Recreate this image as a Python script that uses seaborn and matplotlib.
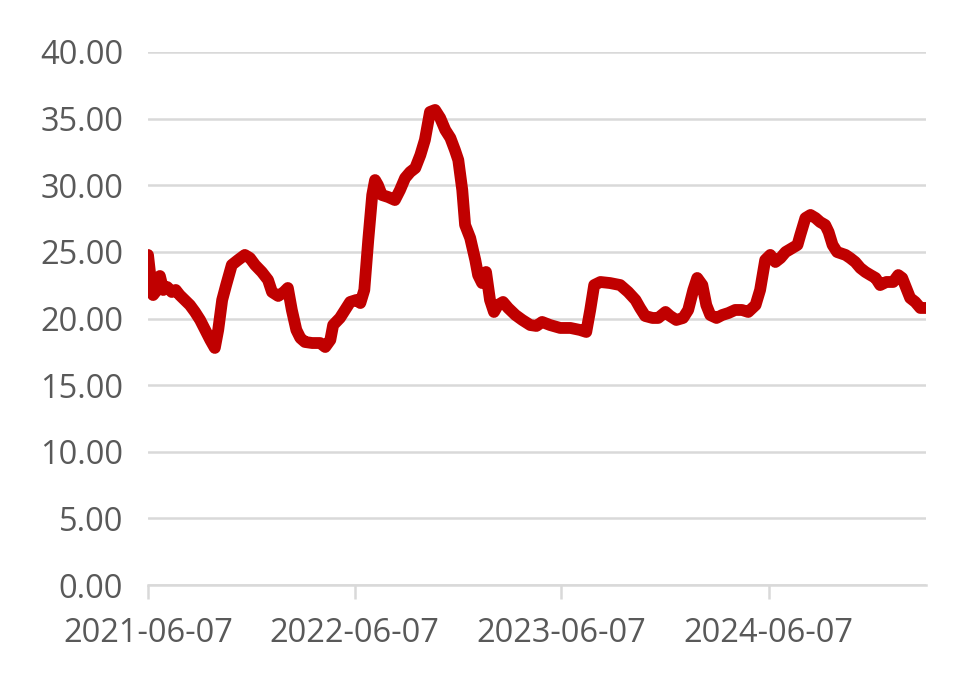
import numpy as np
import pandas as pd
import matplotlib
matplotlib.use("Agg")
import matplotlib.pyplot as plt
import matplotlib.dates as mdates
import seaborn as sns

start_date = "2021-06-07"
end_date = "2025-03-12"
day_offsets = [0, 4, 9, 16, 21, 27, 34, 42, 49, 56, 65, 74, 83, 92, 101, 110, 118, 124, 131, 138,
               148, 159, 171, 180, 189, 201, 212, 219, 230, 240, 247, 254, 262, 269, 277, 290, 304, 313, 322, 327,
               339, 348, 357, 368, 375, 382, 389, 396, 401, 406, 413, 424, 436, 445, 454, 463, 472, 481, 489, 498,
               507, 516, 525, 534, 542, 548, 555, 560, 569, 578, 583, 590, 597, 604, 611, 618, 627, 636, 649, 661,
               675, 686, 696, 710, 728, 746, 763, 774, 781, 788, 799, 816, 834, 848, 861, 869, 878, 891, 901, 914,
               922, 933, 945, 954, 963, 970, 979, 986, 993, 1004, 1014, 1025, 1037, 1049, 1060, 1073, 1081, 1090, 1099, 1108,
               1117, 1126, 1138, 1147, 1152, 1161, 1170, 1179, 1187, 1196, 1202, 1209, 1217, 1232, 1240, 1249, 1258, 1267, 1276, 1285,
               1293, 1304, 1316, 1325, 1332, 1339, 1346, 1355, 1364, 1375]
values = [24.77, 23.26, 21.76, 22.14, 23.19, 22.14, 22.36, 21.99, 22.14, 21.76, 21.39, 21.01, 20.49, 19.89, 19.14, 18.39, 17.79, 19.14, 21.39, 22.51,
          24.02, 24.39, 24.77, 24.54, 24.02, 23.49, 22.89, 21.99, 21.69, 21.99, 22.29, 20.64, 19.14, 18.54, 18.24, 18.16, 18.16, 17.86, 18.39, 19.51,
          20.04, 20.64, 21.24, 21.39, 21.16, 22.14, 25.89, 29.27, 30.39, 30.02, 29.27, 29.12, 28.89, 29.64, 30.54, 30.99, 31.29, 32.27, 33.40, 35.50,
          35.65, 35.05, 34.15, 33.55, 32.65, 31.89, 29.64, 27.02, 26.04, 24.39, 23.26, 22.66, 23.49, 21.39, 20.49, 21.01, 21.24, 20.79, 20.26, 19.89,
          19.51, 19.44, 19.74, 19.51, 19.29, 19.29, 19.14, 18.99, 20.64, 22.51, 22.74, 22.66, 22.51, 21.99, 21.39, 20.79, 20.19, 20.04, 20.04, 20.49,
          20.19, 19.89, 20.04, 20.64, 22.14, 23.04, 22.51, 21.01, 20.26, 20.04, 20.26, 20.41, 20.64, 20.64, 20.49, 21.01, 22.14, 24.39, 24.77, 24.24,
          24.54, 24.99, 25.29, 25.52, 26.27, 27.54, 27.77, 27.54, 27.24, 27.02, 26.49, 25.52, 24.99, 24.77, 24.54, 24.24, 23.79, 23.49, 23.26, 23.04,
          22.51, 22.74, 22.74, 23.26, 23.04, 22.29, 21.54, 21.24, 20.79, 20.79]
x_tick_labels = ["2021-06-07", "2022-06-07", "2023-06-07", "2024-06-07"]
y_ticks = [0, 5, 10, 15, 20, 25, 30, 35, 40]

df = pd.DataFrame({
    "date": pd.to_datetime(start_date) + pd.to_timedelta(day_offsets, unit="D"),
    "value": values,
})

sns.set_theme(style="white")
plt.rcParams["font.family"] = ["Open Sans", "DejaVu Sans"]

fig = plt.figure(figsize=(9.77, 6.91), dpi=100)
ax = fig.add_axes([148 / 977, 1 - 585 / 691, (926 - 148) / 977, (585 - 52) / 691])

sns.lineplot(data=df, x="date", y="value", ax=ax, color="#C00000", linewidth=8.5,
             solid_joinstyle="round", solid_capstyle="round", zorder=3)

ax.set_xlim(pd.to_datetime(start_date), pd.to_datetime(end_date))
ax.set_ylim(0, 40)
ax.set_yticks(y_ticks)
ax.set_yticklabels([f"{v:.2f}" for v in y_ticks])
ax.set_xticks(pd.to_datetime(x_tick_labels))
ax.set_xticklabels(x_tick_labels)

ax.grid(axis="y", color="#D9D9D9", linewidth=1.8)
ax.grid(axis="x", visible=False)
ax.set_axisbelow(True)
for s in ["top", "right", "left"]:
    ax.spines[s].set_visible(False)
ax.spines["bottom"].set_color("#D9D9D9")
ax.spines["bottom"].set_linewidth(1.8)

ax.tick_params(axis="y", length=0, pad=18, labelsize=23.5, labelcolor="#595959")
ax.tick_params(axis="x", length=10, width=1.8, color="#D9D9D9", direction="out",
               pad=13, labelsize=23.5, labelcolor="#595959", bottom=True)
ax.set_xlabel("")
ax.set_ylabel("")

fig.savefig("out.png", dpi=100)
